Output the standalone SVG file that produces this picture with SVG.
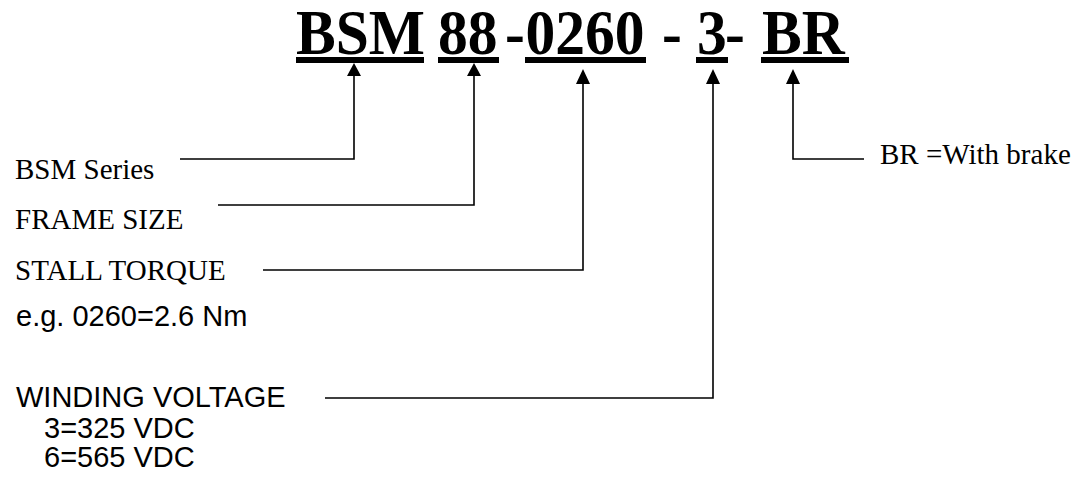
<svg xmlns="http://www.w3.org/2000/svg" width="1088" height="481" viewBox="0 0 1088 481">
<style>
.title{font-family:"Liberation Serif","Times New Roman",serif;font-weight:bold;font-size:64px;fill:#000}
.ser{font-family:"Liberation Serif","Times New Roman",serif;font-size:29px;fill:#000}
.san{font-family:"Liberation Sans",Arial,sans-serif;font-size:29px;fill:#000}
.ul{fill:#000}
.ln{fill:none;stroke:#000;stroke-width:1.6}
.ah{fill:#000}
</style>
<rect width="1088" height="481" fill="#fff"/>
<g id="title">
<text class="title" transform="translate(296,54) scale(0.93,1)">BSM</text>
<text class="title" transform="translate(438,54) scale(0.93,1)">88</text>
<text class="title" transform="translate(505,54) scale(0.93,1)">-</text>
<text class="title" transform="translate(525.5,54) scale(0.93,1)">0260</text>
<text class="title" transform="translate(662,54) scale(0.93,1)">-</text>
<text class="title" transform="translate(697,54) scale(0.93,1)">3</text>
<text class="title" transform="translate(725,54) scale(0.93,1)">-</text>
<text class="title" transform="translate(762,54) scale(0.93,1)">BR</text>
<rect class="ul" x="296" y="57" width="128" height="6"/>
<rect class="ul" x="438" y="57" width="61" height="6"/>
<rect class="ul" x="525" y="57" width="121" height="6"/>
<rect class="ul" x="696" y="57" width="32" height="6"/>
<rect class="ul" x="761" y="57" width="88" height="6"/>
</g>
<g id="label-series"><text class="ser" x="15" y="179">BSM Series</text></g>
<g id="label-frame"><text class="ser" x="15" y="229">FRAME SIZE</text></g>
<g id="label-torque"><text class="ser" x="15" y="280">STALL TORQUE</text></g>
<g id="label-example"><text class="san" x="16" y="326">e.g. 0260=2.6 Nm</text></g>
<g id="label-winding">
<text class="san" x="16" y="407">WINDING VOLTAGE</text>
<text class="san" x="44" y="438">3=325 VDC</text>
<text class="san" x="44" y="467">6=565 VDC</text>
</g>
<g id="label-brake"><text class="ser" x="880" y="164">BR =With brake</text></g>
<g id="connectors">
<polyline class="ln" points="180,159 354,159 354,74"/>
<polygon class="ah" points="354,63 347,76 361,76"/>
<polyline class="ln" points="218,205 474,205 474,74"/>
<polygon class="ah" points="474,63 467,76 481,76"/>
<polyline class="ln" points="263,270 583,270 583,82"/>
<polygon class="ah" points="583,69 576,84 590,84"/>
<polyline class="ln" points="325,398 713,398 713,82"/>
<polygon class="ah" points="713,69 706,84 720,84"/>
<polyline class="ln" points="864,159 793,159 793,82"/>
<polygon class="ah" points="793,69 786,84 800,84"/>
</g>
</svg>
